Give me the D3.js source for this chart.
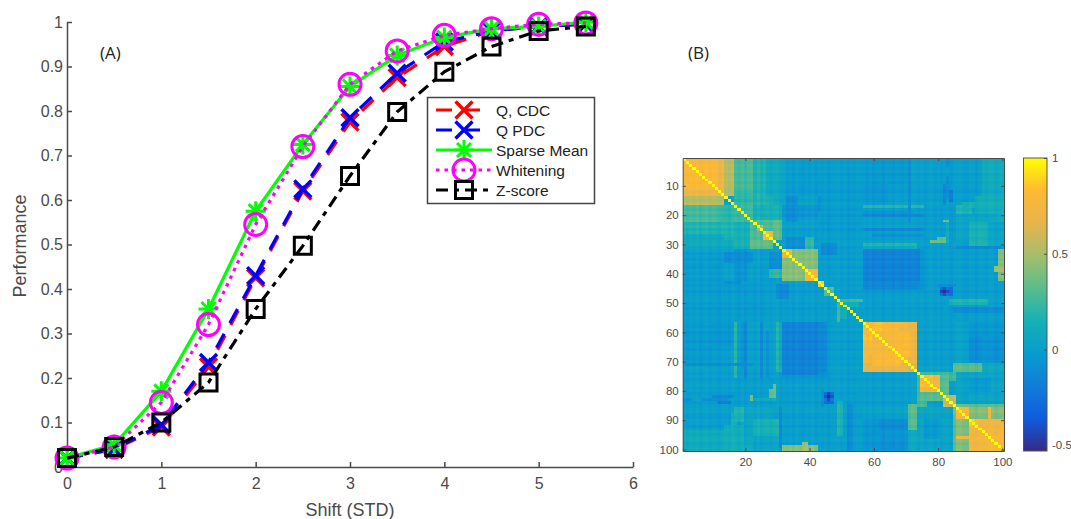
<!DOCTYPE html>
<html><head><meta charset="utf-8">
<script src="https://cdn.jsdelivr.net/npm/d3@7"></script>
<style>html,body{margin:0;padding:0;background:#fff}svg{display:block;font-family:"Liberation Sans",Arial,sans-serif}</style>
</head><body><svg id="c" width="1071" height="519"></svg>
<script>
const shifts=[0,0.5,1,1.5,2,2.5,3,3.5,4,4.5,5,5.5];
const qCdc=[0.02,0.04,0.09,0.225,0.425,0.62,0.775,0.875,0.945,0.98,0.99,0.995];
const qPdc=[0.02,0.04,0.095,0.235,0.43,0.625,0.785,0.885,0.955,0.98,0.99,0.995];
const sparseMean=[0.02,0.05,0.17,0.355,0.575,0.725,0.855,0.925,0.965,0.985,0.99,1];
const whitening=[0.02,0.045,0.145,0.32,0.545,0.72,0.86,0.935,0.97,0.985,0.995,0.998];
const zScore=[0.02,0.045,0.1,0.19,0.355,0.497,0.654,0.798,0.888,0.945,0.98,0.99];
const xTicks=[0,1,2,3,4,5,6];
const yTicks=[0,0.1,0.2,0.3,0.4,0.5,0.6,0.7,0.8,0.9,1];
const seriesNames=["Q, CDC","Q PDC","Sparse Mean","Whitening","Z-score"];
const seriesColors=["#ff0000","#0000ff","#00ff00","#ff00ff","#000000"];
const seriesDash=["16 12","16 12",null,"3.5 5","12 6 5 6"];
const seriesMarkers=["x","x","star","circle","square"];

// Heatmap regions: [row0,row1,col0,col1,value], mirrored across the diagonal
const heatBackground=-0.01;
const heatRegions=[
[1,13,14,16,0.52],[14,16,1,13,0.52],[1,11,1,11,0.78],[12,13,1,11,0.72],[1,13,12,13,0.7],
[17,22,1,16,0.28],[23,28,1,18,0.14],[29,31,1,16,0.07],[17,22,17,22,0.24],
[1,12,17,22,0.26],[1,16,23,26,0.17],[13,16,17,22,0.2],
[14,18,33,45,-0.09],[1,13,27,31,0.07],[23,31,17,21,0.14],
[22,31,22,28,0.32],[22,28,22,25,0.28],[26,28,26,28,0.78],[24,25,24,25,0.5],
[32,42,22,24,0.02],[28,33,33,38,-0.1],[30,33,44,48,-0.12],[28,31,39,41,0.2],
[32,42,1,16,0.02],[32,42,17,20,-0.05],[33,36,14,22,-0.1],
[32,42,32,42,0.42],[39,42,39,42,0.76],[32,34,32,34,0.66],[43,44,43,44,0.88],[45,47,45,47,0.3],
[14,26,44,56,-0.02],[1,13,33,56,-0.02],
[57,73,1,31,0.0],[57,70,17,17,0.27],[57,72,19,20,-0.08],[57,75,25,25,-0.1],[57,73,30,31,0.15],
[69,69,1,14,-0.1],[65,72,8,14,-0.02],[60,64,5,12,-0.04],
[57,73,32,38,-0.18],[57,73,39,45,-0.13],[74,75,32,45,-0.08],[57,73,46,55,-0.01],
[83,83,1,14,-0.11],[84,84,12,15,-0.16],[83,83,22,23,0.34],[80,83,28,28,0.34],
[81,84,45,47,-0.25],[82,82,45,47,-0.4],[81,83,46,46,-0.4],[80,85,44,44,-0.08],
[84,95,49,50,0.16],[85,100,52,53,-0.1],[50,56,49,49,0.22],[51,55,50,51,0.12],
[86,100,19,28,0.04],[88,98,16,17,0.12],[92,98,25,28,-0.05],[98,100,1,29,0.08],
[99,100,32,42,0.44],[97,100,30,31,-0.16],[86,100,30,31,-0.02],
[32,42,99,100,0.4],[32,42,57,74,-0.16],[38,39,98,100,0.48],
[17,17,57,75,0.18],[20,20,57,75,-0.11],[27,27,60,75,-0.1],[31,31,57,72,0.08],[31,31,86,99,-0.1],
[1,22,71,71,-0.09],[1,9,57,70,-0.04],[10,16,57,64,-0.05],[4,6,75,85,-0.01],
[10,16,82,82,-0.14],[22,22,82,82,0.36],[29,29,78,82,0.34],[23,29,83,83,0.08],
[14,19,92,100,0.11],[23,30,90,95,0.14],[1,13,94,100,0.08],[23,30,96,100,0.03],[17,19,86,90,0.16],
[46,49,57,70,-0.02],[72,73,74,85,0.0],
[57,70,57,73,0.76],[71,73,57,70,0.66],[71,73,71,73,0.6],[59,66,68,72,0.66],[68,71,60,68,0.8],[60,63,57,59,0.82],
[74,76,74,85,0.26],[75,81,75,81,0.72],[75,78,75,78,0.8],[81,83,75,81,0.3],[82,85,82,85,0.55],
[72,73,86,100,0.2],[85,93,71,73,0.3],[94,100,71,73,0.06],
[90,100,57,70,-0.06],[90,93,62,70,-0.11],[96,100,62,70,-0.09],[86,89,57,70,0.01],
[74,85,86,100,0.03],[76,80,90,96,-0.04],
[85,89,86,89,0.36],[85,88,90,100,0.3],[89,100,86,89,0.4],[86,88,87,89,0.74],[89,89,89,89,0.74],
[90,100,90,100,0.72],[95,100,95,100,0.76],[90,92,90,92,0.84],[96,96,86,89,0.74],[87,90,96,96,0.7]
];
// Per-variable speckle read from the visible row/column stripes
const heatStripe=[.02,-.01,.02,0,.03,-.02,.01,.03,-.01,.02,0,-.03,.02,.01,-.02,.03,.01,-.02,.02,-.03,
.01,.02,-.02,.03,-.03,.01,.02,-.01,.02,.03,-.02,.01,-.01,.02,-.02,.03,0,-.02,.02,-.01,
.03,-.02,.01,-.01,.02,-.03,.01,.02,.03,-.01,.02,-.03,.01,-.01,.02,.01,.02,-.01,.03,-.02,
.01,.02,-.03,.02,.01,-.02,.03,.01,-.02,.02,-.01,.03,.01,-.01,.02,-.02,.01,.03,-.01,.02,
-.02,.01,.02,-.03,.01,.02,.03,-.01,-.02,.02,.01,-.03,.02,.01,-.01,.02,.03,-.02,.01,.02];
const heatIndex=d3.range(1,101);
const heatXTicks=[20,40,60,80,100];
const heatYTicks=[10,20,30,40,50,60,70,80,90,100];
const barTicks=[-0.5,0,0.5,1];
const parula=["rgb(53,42,135)","rgb(15,92,221)","rgb(18,125,216)","rgb(7,156,207)","rgb(21,177,180)","rgb(89,189,140)","rgb(165,190,107)","rgb(232,180,75)","rgb(253,186,50)","rgb(255,255,0)"];

const svg=d3.select("#c");
const grey="#4a4a4a";
function styleAxis(g,size,sw){
  g.selectAll("path.domain").attr("stroke",grey).attr("stroke-width",sw);
  g.selectAll("line").attr("stroke",grey).attr("stroke-width",sw);
  g.selectAll("text").attr("fill",grey).attr("font-size",size).attr("font-family","Liberation Sans");
}
/* ---------- panel A ---------- */
const x=d3.scaleLinear().domain([0,6]).range([67,633]);
const y=d3.scaleLinear().domain([0,1]).range([467,22]);
const gx=svg.append("g").attr("transform","translate(0,467)")
 .call(d3.axisBottom(x).tickValues(xTicks).tickFormat(d3.format("d")).tickSize(-5).tickSizeOuter(0).tickPadding(11));
styleAxis(gx,16,1.5);
const gy=svg.append("g").attr("transform","translate(67,0)")
 .call(d3.axisLeft(y).tickValues(yTicks).tickFormat(d=>d===0||d===1?String(d):d.toFixed(1)).tickSize(-5).tickSizeOuter(0).tickPadding(4));
styleAxis(gy,16,1.5);

function markerPath(kind){
  const p=d3.path();
  if(kind==="x"){const r=8.5;p.moveTo(-r,-r);p.lineTo(r,r);p.moveTo(-r,r);p.lineTo(r,-r);}
  else if(kind==="star"){const r=10,d=7;p.moveTo(-r,0);p.lineTo(r,0);p.moveTo(0,-r);p.lineTo(0,r);p.moveTo(-d,-d);p.lineTo(d,d);p.moveTo(-d,d);p.lineTo(d,-d);}
  else if(kind==="circle"){p.arc(0,0,11,0,2*Math.PI);}
  else {p.rect(-8.5,-8.5,17,17);}
  return p.toString();
}
const allSeries=[qCdc,qPdc,sparseMean,whitening,zScore];
const line=d3.line().x((d,i)=>x(shifts[i])).y(d=>y(d));
allSeries.forEach((vals,k)=>{
  const g=svg.append("g").attr("fill","none").attr("stroke",seriesColors[k]);
  g.append("path").datum(vals).attr("d",line).attr("stroke-width",3.2).attr("stroke-dasharray",seriesDash[k]);
  g.selectAll("path.m").data(vals).join("path").attr("class","m")
   .attr("transform",(d,i)=>`translate(${x(shifts[i])},${y(d)})`)
   .attr("d",markerPath(seriesMarkers[k])).attr("stroke-width",seriesMarkers[k]==="x"?3.4:3);
});
svg.append("text").attr("x",350).attr("y",516).attr("text-anchor","middle").attr("font-size",18).attr("fill",grey).text("Shift (STD)");
svg.append("text").attr("transform","translate(26,246) rotate(-90)").attr("text-anchor","middle").attr("font-size",18).attr("fill",grey).text("Performance");
svg.append("text").attr("x",100).attr("y",59).attr("font-size",17).attr("font-family","Open Sans").attr("fill","#222").text("(A)");
svg.append("text").attr("x",688).attr("y",59).attr("font-size",17).attr("font-family","Open Sans").attr("fill","#222").text("(B)");

/* legend */
const leg=svg.append("g");
leg.append("rect").attr("x",427.5).attr("y",97.5).attr("width",167).attr("height",106).attr("fill","#fff").attr("stroke","#444").attr("stroke-width",1.5);
const legY=d3.scalePoint().domain(seriesNames).range([110,190]);
seriesNames.forEach((n,k)=>{
  const ly=legY(n);
  const g=leg.append("g").attr("fill","none").attr("stroke",seriesColors[k]);
  g.append("line").attr("x1",436).attr("x2",k<2?481:492).attr("y1",ly).attr("y2",ly).attr("stroke-width",3.2).attr("stroke-dasharray",seriesDash[k]);
  g.append("path").attr("transform",`translate(464,${ly})`).attr("d",markerPath(seriesMarkers[k])).attr("stroke-width",seriesMarkers[k]==="x"?3.4:3);
  leg.append("text").attr("x",496).attr("y",ly+5.5).attr("font-size",15.5).attr("fill","#222").text(n);
});

/* ---------- panel B ---------- */
const hx=d3.scaleBand().domain(heatIndex).range([682.7,1004]);
const hy=d3.scaleBand().domain(heatIndex).range([158,451]);
const color=d3.scaleLinear().domain(d3.range(10).map(i=>1-1.53*(1-i/9))).range(parula).clamp(true);
const matrix=heatIndex.map(()=>heatIndex.map(()=>heatBackground));
heatRegions.forEach(([r0,r1,c0,c1,v])=>{
  for(let r=r0;r<=r1;r++)for(let c=c0;c<=c1;c++){matrix[r-1][c-1]=v;matrix[c-1][r-1]=v;}
});
const isDarkest=(r,c)=>(r===46&&c===82)||(r===82&&c===46);
const cells=[];
heatIndex.forEach(r=>heatIndex.forEach(c=>{
  const v=r===c?1:Math.min(0.95,matrix[r-1][c-1]+heatStripe[r-1]+heatStripe[c-1]);
  cells.push({r,c,v:isDarkest(r,c)?-0.53:v});
}));
svg.append("g").attr("shape-rendering","crispEdges").style("filter","blur(0.7px)")
 .selectAll("rect").data(cells).join("rect")
 .attr("x",d=>hx(d.c)).attr("y",d=>hy(d.r)).attr("width",hx.bandwidth()+0.4).attr("height",hy.bandwidth()+0.4)
 .attr("fill",d=>color(d.v));
// clean white frame so the blur does not bleed past the plot box
const hxAxis=d3.scaleLinear().domain([0.5,100.5]).range([682.7,1004]);
const hyAxis=d3.scaleLinear().domain([0.5,100.5]).range([158,451]);
const gb=svg.append("g").attr("transform","translate(0,451)").call(d3.axisBottom(hxAxis).tickValues(heatXTicks).tickSize(-3).tickSizeOuter(0).tickPadding(7));
styleAxis(gb,11.5,1);
const gl=svg.append("g").attr("transform","translate(682.7,0)").call(d3.axisLeft(hyAxis).tickValues(heatYTicks).tickSize(-3).tickSizeOuter(0).tickPadding(4));
styleAxis(gl,11.5,1);
const gt=svg.append("g").attr("transform","translate(0,158)").call(d3.axisTop(hxAxis).tickValues(heatXTicks).tickSize(-3).tickSizeOuter(0).tickFormat(""));
styleAxis(gt,11.5,1);
const gr=svg.append("g").attr("transform","translate(1004,0)").call(d3.axisRight(hyAxis).tickValues(heatYTicks).tickSize(-3).tickSizeOuter(0).tickFormat(""));
styleAxis(gr,11.5,1);

/* colour bar */
const cb=d3.scaleLinear().domain([-0.53,1]).range([451,158]);
const defs=svg.append("defs");
const lg=defs.append("linearGradient").attr("id","parula").attr("x1",0).attr("x2",0).attr("y1",1).attr("y2",0);
parula.forEach((c,i)=>lg.append("stop").attr("offset",i/9).attr("stop-color",c));
svg.append("rect").attr("x",1023.5).attr("y",158).attr("width",23.5).attr("height",293).attr("fill","url(#parula)").attr("stroke","#555").attr("stroke-width",1);
const gc=svg.append("g").attr("transform","translate(1047,0)").call(d3.axisRight(cb).tickValues(barTicks).tickFormat(d=>String(d)).tickSize(-3).tickSizeOuter(0).tickPadding(5));
styleAxis(gc,11.5,1);
gc.select("path.domain").attr("stroke","none");
</script></body></html>
